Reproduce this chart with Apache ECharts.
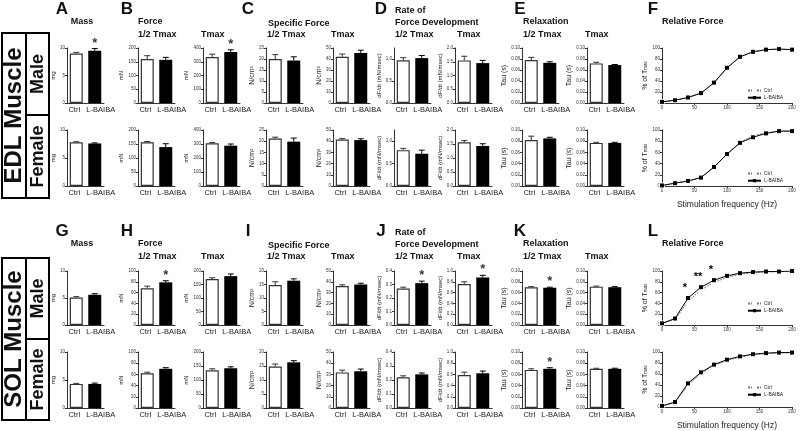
<!DOCTYPE html>
<html><head><meta charset="utf-8">
<script src="https://cdn.jsdelivr.net/npm/echarts@6/dist/echarts.min.js"></script>
<style>html,body{margin:0;padding:0;background:#fff}#c{width:800px;height:431px}</style>
</head><body><div id="c"></div>
<script>
// ---------------- DATA ----------------
const categories = ['Ctrl', 'L-BAIBA'];
// EDL male (mean, SEM)
const edlMaleMass = [9.0, 9.5],        edlMaleMassErr = [0.2, 0.4];
const edlMaleForceHalf = [160, 157],   edlMaleForceHalfErr = [12, 9];
const edlMaleForceTmax = [335, 371],   edlMaleForceTmaxErr = [20, 16];
const edlMaleSpecHalf = [20.0, 19.3],  edlMaleSpecHalfErr = [2.0, 1.7];
const edlMaleSpecTmax = [42, 45.5],    edlMaleSpecTmaxErr = [2.5, 2.5];
const edlMaleRateHalf = [0.97, 1.02],  edlMaleRateHalfErr = [0.06, 0.06];
const edlMaleRateTmax = [1.55, 1.45],  edlMaleRateTmaxErr = [0.15, 0.1];
const edlMaleRelaxHalf = [0.078, 0.073], edlMaleRelaxHalfErr = [0.005, 0.002];
const edlMaleRelaxTmax = [0.072, 0.069], edlMaleRelaxTmaxErr = [0.002, 0.001];
// EDL female
const edlFemMass = [7.8, 7.6],         edlFemMassErr = [0.1, 0.1];
const edlFemForceHalf = [156, 139],    edlFemForceHalfErr = [3, 12];
const edlFemForceTmax = [305, 288],    edlFemForceTmaxErr = [5, 12];
const edlFemSpecHalf = [21.2, 19.8],   edlFemSpecHalfErr = [0.6, 1.6];
const edlFemSpecTmax = [41.5, 41],     edlFemSpecTmaxErr = [0.8, 1.2];
const edlFemRateHalf = [0.8, 0.72],    edlFemRateHalfErr = [0.04, 0.08];
const edlFemRateTmax = [1.56, 1.43],   edlFemRateTmaxErr = [0.06, 0.08];
const edlFemRelaxHalf = [0.082, 0.085], edlFemRelaxHalfErr = [0.007, 0.002];
const edlFemRelaxTmax = [0.077, 0.077], edlFemRelaxTmaxErr = [0.001, 0.001];
// SOL male
const solMaleMass = [5.1, 5.6],        solMaleMassErr = [0.15, 0.2];
const solMaleForceHalf = [68, 79],     solMaleForceHalfErr = [4, 3];
const solMaleForceTmax = [170, 181],   solMaleForceTmaxErr = [5, 8];
const solMaleSpecHalf = [14.8, 16.4],  solMaleSpecHalfErr = [1.2, 0.7];
const solMaleSpecTmax = [36, 37.5],    solMaleSpecTmaxErr = [1.2, 1.2];
const solMaleRateHalf = [0.27, 0.31],  solMaleRateHalfErr = [0.01, 0.015];
const solMaleRateTmax = [0.76, 0.88],  solMaleRateTmaxErr = [0.04, 0.04];
const solMaleRelaxHalf = [0.07, 0.069], solMaleRelaxHalfErr = [0.001, 0.001];
const solMaleRelaxTmax = [0.071, 0.07], solMaleRelaxTmaxErr = [0.001, 0.001];
// SOL female
const solFemMass = [4.3, 4.3],         solFemMassErr = [0.1, 0.15];
const solFemForceHalf = [62, 70],      solFemForceHalfErr = [2, 2];
const solFemForceTmax = [135, 142],    solFemForceTmaxErr = [5, 5];
const solFemSpecHalf = [14.8, 16.3],   solFemSpecHalfErr = [0.9, 0.6];
const solFemSpecTmax = [31.8, 32.8],   solFemSpecTmaxErr = [2, 2];
const solFemRateHalf = [0.22, 0.24],   solFemRateHalfErr = [0.01, 0.01];
const solFemRateTmax = [0.59, 0.62],   solFemRateTmaxErr = [0.05, 0.04];
const solFemRelaxHalf = [0.068, 0.07], solFemRelaxHalfErr = [0.002, 0.002];
const solFemRelaxTmax = [0.07, 0.07],  solFemRelaxTmaxErr = [0.001, 0.001];
// Relative force (% of Tmax) vs stimulation frequency
const freq = [0, 20, 40, 60, 80, 100, 120, 140, 160, 180, 200];
const edlMaleCtrl = [2, 5, 10, 18, 36, 63, 84, 93, 97, 98, 97];
const edlMaleLB   = [2, 5, 10, 18, 37, 64, 84, 93, 97, 98, 97];
const edlFemCtrl  = [1, 5, 9, 15, 33, 57, 78, 90, 95, 98, 98];
const edlFemLB    = [1, 5, 9, 15, 34, 57, 77, 87, 94, 98, 98];
const solMaleCtrl = [3, 10, 44, 65, 79, 88, 94, 97, 98, 99, 99];
const solMaleLB   = [3, 12, 50, 70, 83, 91, 96, 98, 99, 99, 100];
const solFemCtrl  = [2, 8, 40, 61, 75, 85, 91, 95, 97, 98, 99];
const solFemLB    = [2, 9, 43, 63, 77, 86, 92, 96, 98, 99, 99];
// significance marks: index of starred group (null = none)
const edlMaleStars = [1, null, 1, null, null, null, null, null, null];
const edlFemStars  = [null, null, null, null, null, null, null, null, null];
const solMaleStars = [null, 1, null, null, null, 1, 1, 1, null];
const solFemStars  = [null, null, null, null, null, null, null, 1, null];
const solMaleLineStars = ['', '', '*', '**', '*', '', '', '', '', '', ''];

// ---------------- LAYOUT ----------------
const FONT = '"Liberation Sans", Arial, sans-serif';
const colLefts = [67, 138, 203, 266, 333, 394, 455, 522, 587];
const edlAxes = [
  {max: 10, int: 5, dec: 0, name: 'mg', gap: 8},
  {max: 200, int: 50, dec: 0, name: 'mN', gap: 11},
  {max: 400, int: 100, dec: 0, name: 'mN', gap: 11},
  {max: 25, int: 5, dec: 0, name: 'N/cm²', gap: 9, ns: 7},
  {max: 50, int: 10, dec: 0, name: 'N/cm²', gap: 9, ns: 7},
  {max: 1.25, int: 0.5, dec: 1, name: 'dF/dt (mN/msec)', gap: 9, hideMax: true},
  {max: 2.0, int: 0.5, dec: 1, name: 'dF/dt (mN/msec)', gap: 9},
  {max: 0.10, int: 0.02, dec: 2, name: 'Tau (s)', gap: 12, ns: 7},
  {max: 0.10, int: 0.02, dec: 2, name: 'Tau (s)', gap: 12, ns: 7}
];
const solAxes = [
  {max: 10, int: 5, dec: 0, name: 'mg', gap: 8},
  {max: 100, int: 20, dec: 0, name: 'mN', gap: 10},
  {max: 200, int: 50, dec: 0, name: 'mN', gap: 11},
  {max: 20, int: 5, dec: 0, name: 'N/cm²', gap: 9, ns: 7},
  {max: 50, int: 10, dec: 0, name: 'N/cm²', gap: 9, ns: 7},
  {max: 0.4, int: 0.1, dec: 1, name: 'dF/dt (mN/msec)', gap: 9},
  {max: 1.0, int: 0.2, dec: 1, name: 'dF/dt (mN/msec)', gap: 9},
  {max: 0.10, int: 0.02, dec: 2, name: 'Tau (s)', gap: 12, ns: 7},
  {max: 0.10, int: 0.02, dec: 2, name: 'Tau (s)', gap: 12, ns: 7}
];
const rows = [
  {top: 48, h: 55, axes: edlAxes, stars: edlMaleStars,
   vals: [edlMaleMass, edlMaleForceHalf, edlMaleForceTmax, edlMaleSpecHalf, edlMaleSpecTmax, edlMaleRateHalf, edlMaleRateTmax, edlMaleRelaxHalf, edlMaleRelaxTmax],
   errs: [edlMaleMassErr, edlMaleForceHalfErr, edlMaleForceTmaxErr, edlMaleSpecHalfErr, edlMaleSpecTmaxErr, edlMaleRateHalfErr, edlMaleRateTmaxErr, edlMaleRelaxHalfErr, edlMaleRelaxTmaxErr],
   ctrl: edlMaleCtrl, lb: edlMaleLB, xName: false, legTop: 83, lineStars: null},
  {top: 130, h: 56, axes: edlAxes, stars: edlFemStars,
   vals: [edlFemMass, edlFemForceHalf, edlFemForceTmax, edlFemSpecHalf, edlFemSpecTmax, edlFemRateHalf, edlFemRateTmax, edlFemRelaxHalf, edlFemRelaxTmax],
   errs: [edlFemMassErr, edlFemForceHalfErr, edlFemForceTmaxErr, edlFemSpecHalfErr, edlFemSpecTmaxErr, edlFemRateHalfErr, edlFemRateTmaxErr, edlFemRelaxHalfErr, edlFemRelaxTmaxErr],
   ctrl: edlFemCtrl, lb: edlFemLB, xName: true, legTop: 166, lineStars: null},
  {top: 271, h: 54, axes: solAxes, stars: solMaleStars,
   vals: [solMaleMass, solMaleForceHalf, solMaleForceTmax, solMaleSpecHalf, solMaleSpecTmax, solMaleRateHalf, solMaleRateTmax, solMaleRelaxHalf, solMaleRelaxTmax],
   errs: [solMaleMassErr, solMaleForceHalfErr, solMaleForceTmaxErr, solMaleSpecHalfErr, solMaleSpecTmaxErr, solMaleRateHalfErr, solMaleRateTmaxErr, solMaleRelaxHalfErr, solMaleRelaxTmaxErr],
   ctrl: solMaleCtrl, lb: solMaleLB, xName: false, legTop: 296, lineStars: solMaleLineStars},
  {top: 352, h: 56, axes: solAxes, stars: solFemStars,
   vals: [solFemMass, solFemForceHalf, solFemForceTmax, solFemSpecHalf, solFemSpecTmax, solFemRateHalf, solFemRateTmax, solFemRelaxHalf, solFemRelaxTmax],
   errs: [solFemMassErr, solFemForceHalfErr, solFemForceTmaxErr, solFemSpecHalfErr, solFemSpecTmaxErr, solFemRateHalfErr, solFemRateTmaxErr, solFemRelaxHalfErr, solFemRelaxTmaxErr],
   ctrl: solFemCtrl, lb: solFemLB, xName: true, legTop: 380, lineStars: null}
];

const grids = [], xAxes = [], yAxes = [], series = [], legends = [];
const AX = '#333';

function errRender(params, api) {
  const x = api.value(0);
  const lo = api.coord([x, api.value(1)]);
  const hi = api.coord([x, api.value(2)]);
  const hw = 3;
  const col = x === 0 ? '#333' : '#000';
  return {type: 'group', children: [
    {type: 'line', shape: {x1: lo[0], y1: lo[1], x2: hi[0], y2: hi[1]}, style: {stroke: col, lineWidth: 1}},
    {type: 'line', shape: {x1: hi[0] - hw, y1: hi[1], x2: hi[0] + hw, y2: hi[1]}, style: {stroke: col, lineWidth: 1}}
  ]};
}

function barPanel(left, top, height, vals, errs, ax, star) {
  const gi = grids.length;
  grids.push({left: left, top: top, width: 37, height: height});
  xAxes.push({gridIndex: gi, type: 'category', data: categories,
    axisLine: {lineStyle: {color: AX, width: 1}},
    axisTick: {alignWithLabel: true, length: 2, lineStyle: {color: AX}},
    axisLabel: {interval: 0, fontSize: 7.5, color: '#222', margin: 3, fontFamily: FONT,
      formatter: (v, i) => i === 0 ? '{a|' + v + '}' : '{b|' + v + '}',
      rich: {a: {fontSize: 7.5, color: '#222', fontFamily: FONT, padding: [0, 4, 0, 0]},
             b: {fontSize: 7.5, color: '#222', fontFamily: FONT, padding: [0, 0, 0, 12]}}}});
  const lab = {fontSize: 4.5, color: '#333', margin: 2, fontFamily: FONT,
    formatter: v => Number(v).toFixed(ax.dec)};
  if (ax.hideMax) lab.showMaxLabel = false;
  yAxes.push({gridIndex: gi, type: 'value', min: 0, max: ax.max, interval: ax.int,
    splitLine: {show: false},
    axisLine: {show: true, lineStyle: {color: AX, width: 1}},
    axisTick: {show: true, length: 2, lineStyle: {color: AX}},
    axisLabel: lab,
    name: ax.name, nameLocation: 'middle', nameGap: ax.gap,
    nameTextStyle: {fontSize: ax.ns || 6, color: '#222', fontFamily: FONT}});
  series.push({type: 'bar', name: 'bars', xAxisIndex: gi, yAxisIndex: gi, barWidth: 13, silent: true,
    data: vals.map((v, i) => ({value: v, itemStyle: i === 0 ? {color: '#fff', borderColor: '#333', borderWidth: 1.2} : {color: '#000'}}))});
  series.push({type: 'custom', name: 'err', xAxisIndex: gi, yAxisIndex: gi, z: 3, silent: true,
    data: vals.map((v, i) => [i, v, v + errs[i]]), renderItem: errRender});
  if (star !== null && star !== undefined) {
    series.push({type: 'scatter', name: 'sig', xAxisIndex: gi, yAxisIndex: gi, symbolSize: 0, silent: true,
      data: [[star, vals[star] + errs[star]]],
      label: {show: true, formatter: '*', position: 'top', distance: -1, fontSize: 13, fontWeight: 'bold', color: '#000', fontFamily: FONT}});
  }
}

function linePanel(top, height, ctrl, lb, xName, legTop, lineStars) {
  const gi = grids.length;
  grids.push({left: 662, top: top, width: 130, height: height});
  xAxes.push({gridIndex: gi, type: 'value', min: 0, max: 200, interval: 50,
    splitLine: {show: false},
    axisLine: {lineStyle: {color: AX}}, axisTick: {length: 2, lineStyle: {color: AX}},
    axisLabel: {fontSize: 4.5, color: '#333', margin: 2, fontFamily: FONT},
    name: xName ? 'Stimulation frequency (Hz)' : '', nameLocation: 'middle', nameGap: 14,
    nameTextStyle: {fontSize: 8.5, color: '#222', fontFamily: FONT}});
  yAxes.push({gridIndex: gi, type: 'value', min: 0, max: 100, interval: 20,
    splitLine: {show: false},
    axisLine: {show: true, lineStyle: {color: AX}}, axisTick: {show: true, length: 2, lineStyle: {color: AX}},
    axisLabel: {fontSize: 4.5, color: '#333', margin: 2, fontFamily: FONT},
    name: '% of T{s|max}', nameLocation: 'middle', nameGap: 12,
    nameTextStyle: {fontSize: 7, color: '#222', fontFamily: FONT, rich: {s: {fontSize: 4.5, verticalAlign: 'bottom', color: '#222', fontFamily: FONT}}}});
  series.push({type: 'line', name: 'Ctrl', xAxisIndex: gi, yAxisIndex: gi,
    data: freq.map((f, i) => [f, ctrl[i]]), symbol: 'emptyCircle', symbolSize: 4,
    itemStyle: {color: '#fff', borderColor: '#666', borderWidth: 1},
    lineStyle: {color: '#777', width: 1, type: [2, 1]}, z: 3});
  series.push({type: 'line', name: 'L-BAIBA', xAxisIndex: gi, yAxisIndex: gi,
    data: freq.map((f, i) => {
      const o = {value: [f, lb[i]]};
      if (lineStars && lineStars[i]) o.label = {show: true, formatter: lineStars[i], position: 'top', distance: 3, offset: [-3, 0], fontSize: 11, fontWeight: 'bold', color: '#000', fontFamily: FONT};
      return o;
    }),
    symbol: 'rect', symbolSize: 4, itemStyle: {color: '#000'},
    lineStyle: {color: '#000', width: 1}, z: 4});
  legends.push({data: ['Ctrl', 'L-BAIBA'], left: 742, top: legTop, orient: 'vertical',
    itemWidth: 13, itemHeight: 4, itemGap: 2, selectedMode: false,
    textStyle: {fontSize: 5, color: '#222', fontFamily: FONT, padding: [0, 0, 0, -2]}});
}

rows.forEach(r => {
  colLefts.forEach((l, c) => barPanel(l, r.top, r.h, r.vals[c], r.errs[c], r.axes[c], r.stars[c]));
  linePanel(r.top, r.h, r.ctrl, r.lb, r.xName, r.legTop, r.lineStars);
});

// ---------------- TEXT / GRAPHICS ----------------
const graphics = [];
function txt(text, x, y, size, bold, align, rot) {
  graphics.push({type: 'text', x: x, y: y, rotation: rot || 0, silent: true,
    style: {text: text, fontSize: size, fontWeight: bold ? 'bold' : 'normal', fontFamily: FONT,
      fill: '#111', align: align || 'left', verticalAlign: 'middle'}});
}
function line(x1, y1, x2, y2, w) {
  graphics.push({type: 'line', silent: true, shape: {x1: x1, y1: y1, x2: x2, y2: y2}, style: {stroke: '#000', lineWidth: w || 2}});
}
const sectionLetters = [['A', 'G'], ['B', 'H'], ['C', 'I'], ['D', 'J'], ['E', 'K'], ['F', 'L']];
const letterX = [62, 127, 248, 381, 520, 653];
[0, 222].forEach((off, s) => {
  sectionLetters.forEach((p, i) => txt(p[s], letterX[i], 9 + off, 17, true, 'center'));
  txt('Mass', 82, 22 + off, 9, true, 'center');
  txt('Force', 138, 22 + off, 9, true);
  txt('1/2 Tmax', 138, 35 + off, 9, true);
  txt('Tmax', 201, 35 + off, 9, true);
  txt('Specific Force', 268, 24 + off, 9, true);
  txt('1/2 Tmax', 267, 35 + off, 9, true);
  txt('Tmax', 331, 35 + off, 9, true);
  txt('Rate of', 395, 11 + off, 9, true);
  txt('Force Development', 395, 23 + off, 9, true);
  txt('1/2 Tmax', 395, 35 + off, 9, true);
  txt('Tmax', 457, 35 + off, 9, true);
  txt('Relaxation', 523, 22 + off, 9, true);
  txt('1/2 Tmax', 523, 35 + off, 9, true);
  txt('Tmax', 585, 35 + off, 9, true);
  txt('Relative Force', 662, 22 + off, 9, true);
});
// side boxes
[[33, 115, 198, 'EDL Muscle'], [258, 339, 420, 'SOL Muscle']].forEach(b => {
  const [t, m, bt, name] = b;
  graphics.push({type: 'rect', silent: true, shape: {x: 2, y: t, width: 47, height: bt - t}, style: {fill: 'none', stroke: '#000', lineWidth: 2}});
  line(26, t, 26, bt);
  line(26, m, 49, m);
  txt(name, 14, (t + bt) / 2, 24, true, 'center', Math.PI / 2);
  txt('Male', 38, (t + m) / 2, 18, true, 'center', Math.PI / 2);
  txt('Female', 38, (m + bt) / 2, 18, true, 'center', Math.PI / 2);
});

const chart = echarts.init(document.getElementById('c'));
chart.setOption({
  animation: false,
  backgroundColor: '#fff',
  textStyle: {fontFamily: FONT},
  grid: grids, xAxis: xAxes, yAxis: yAxes, series: series, legend: legends,
  graphic: {elements: graphics}
});
</script>
</body></html>
